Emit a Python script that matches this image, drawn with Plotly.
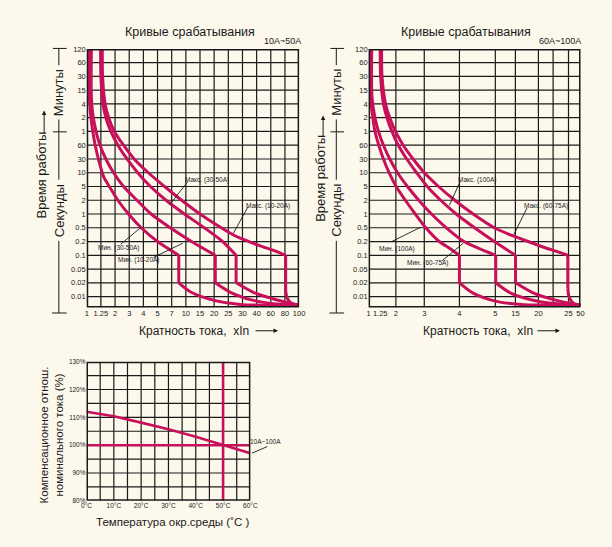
import plotly.graph_objects as go

W, H = 612, 547
BG = "#FDF8EC"
RED = "#C8105A"
INK = "#1a1a1a"
FONT = "Liberation Sans, Arial, sans-serif"
NARROW = "Liberation Sans Narrow, Arial Narrow, Liberation Sans, sans-serif"

# ---------------- data ----------------
# top charts: shared row labels (grid row index 0..18, top to bottom)
Y_LABELS = ["120", "60", "30", "15", "4", "2", "1", "60", "30", "10", "5", "2", "1",
            "0.5", "0.2", "0.1", "0.05", "0.02", "0.01"]

# left chart 10A~50A : column labels (equally spaced grid columns 0..15)
L_X_LABELS = ["1", "1.25", "2", "3", "4", "5", "7", "10", "15", "20", "25", "30", "40", "60", "80", "100"]

# curves as (grid column, grid row)
L_MIN_3050_UP = [(0.17, 0), (0.17, 3.0), (0.25, 4.5), (0.4, 5.8), (0.6, 7.0), (0.9, 8.3), (1.2, 9.3),
                 (1.6, 10.0), (2.2, 11.0), (2.95, 12.0), (3.85, 13.0), (5.0, 14.0), (6.5, 15.0)]
L_MIN_3050_LO = [(6.5, 17.0), (7.38, 17.69), (9.0, 18.28), (10.85, 18.57), (12.0, 18.62), (15, 18.62)]
L_MIN_1020_UP = [(0.33, 0), (0.33, 3.5), (0.45, 4.9), (0.87, 6.8), (1.35, 8.0), (1.9, 9.0), (2.6, 10.0),
                 (3.55, 11.0), (4.55, 12.0), (5.9, 13.0), (7.4, 14.0), (9.08, 15.0)]
L_MIN_1020_LO = [(9.08, 17.0), (10.15, 17.69), (11.77, 18.28), (13.15, 18.52), (14.2, 18.6), (15, 18.62)]
L_MAX_3050_UP = [(0.98, 0), (1.0, 2.0), (1.15, 4.0), (1.35, 5.0), (1.7, 6.0), (2.2, 7.0), (2.85, 8.0),
                 (3.6, 9.0), (4.5, 10.0), (5.6, 11.0), (6.9, 12.0), (8.3, 13.0), (9.6, 14.0), (10.55, 15.0)]
L_MAX_3050_LO = [(10.55, 17.0), (11.77, 17.69), (13.15, 18.16), (14.2, 18.45), (14.7, 18.58), (15, 18.62)]
L_MAX_1020_UP = [(1.1, 0), (1.12, 2.0), (1.3, 4.0), (1.55, 5.0), (1.95, 6.0), (2.6, 7.0), (3.35, 8.0),
                 (4.35, 9.0), (5.5, 10.0), (6.7, 11.0), (8.0, 12.0), (9.5, 13.0), (10.5, 13.6), (11.45, 14.0),
                 (12.35, 14.35), (13.2, 14.65), (14.05, 15.0)]
L_MAX_1020_LO = [(14.05, 17.6), (14.15, 18.1), (14.35, 18.4), (14.65, 18.56), (15, 18.62)]

# right chart 60A~100A : column labels and their grid positions (not equally spaced)
R_X_LABELS = ["1", "1.25", "2", "3", "4", "5", "15", "20", "25", "50"]
R_X_POS = [0, 0.82, 1.93, 3.94, 6.43, 8.97, 10.39, 12.02, 14.15, 15]
R_X_GRID = [1.93, 3.94, 6.43, 8.97, 10.39, 12.02, 13.06, 14.15]

R_MIN_100_UP = [(0.13, 0), (0.14, 3.5), (0.3, 5.0), (0.45, 6.0), (0.72, 7.0), (1.05, 8.0), (1.45, 9.0),
                (1.95, 10.0), (2.6, 11.0), (3.3, 12.0), (4.05, 13.0), (5.0, 14.0), (5.75, 14.5), (6.43, 15.0)]
R_MIN_100_LO = [(6.43, 17.0), (7.4, 17.75), (9.05, 18.35), (11.0, 18.6), (12.5, 18.62), (15, 18.62)]
R_MIN_6075_UP = [(0.22, 0), (0.24, 3.5), (0.45, 5.0), (0.7, 6.0), (1.05, 7.0), (1.5, 8.0), (2.05, 9.0),
                 (2.75, 10.0), (3.55, 11.0), (4.45, 12.0), (5.5, 13.0), (6.75, 14.0), (7.8, 14.5), (9.0, 15.0)]
R_MIN_6075_LO = [(9.0, 17.0), (10.06, 17.75), (12.14, 18.38), (14.2, 18.6), (15, 18.62)]
R_MAX_100_UP = [(0.82, 0), (0.85, 2.0), (1.05, 4.0), (1.3, 5.0), (1.65, 6.0), (2.1, 7.0), (2.7, 8.0),
                (3.4, 9.0), (4.15, 10.0), (5.1, 11.0), (6.2, 12.0), (7.5, 13.0), (8.9, 14.0), (10.4, 15.0)]
R_MAX_100_LO = [(10.4, 17.0), (11.68, 17.75), (13.3, 18.28), (14.68, 18.58), (15, 18.62)]
R_MAX_6075_UP = [(0.92, 0), (0.95, 2.0), (1.2, 4.0), (1.5, 5.0), (1.9, 6.0), (2.45, 7.0), (3.15, 8.0),
                 (3.95, 9.0), (4.95, 10.0), (6.1, 11.0), (7.4, 12.0), (8.9, 13.0), (10.0, 13.5), (11.3, 14.0),
                 (12.5, 14.45), (13.4, 14.75), (14.1, 15.0)]
R_MAX_6075_LO = [(14.1, 17.4), (14.2, 18.05), (14.5, 18.48), (14.85, 18.6), (15, 18.62)]

# bottom chart: compensation vs ambient temperature
TEMP = [0, 10, 20, 30, 40, 50, 60]
COMP = [112.0, 110.4, 108.1, 105.7, 103.0, 100.0, 97.1]
REF_PCT = 100
REF_TEMP = 50
T_TICKS = [0, 10, 20, 30, 40, 50, 60]
T_LABELS = ["0°C", "10°C", "20°C", "30°C", "40°C", "50°C", "60°C"]
P_TICKS = [80, 90, 100, 110, 120, 130]
P_LABELS = ["80%", "90%", "100%", "110%", "120%", "130%"]

# ---------------- helpers ----------------
def fx(x):
    return x / W

def fy(y):
    return 1 - y / H

fig = go.Figure()
shapes = []
annotations = []

def add_curve(up, lo, xa, ya):
    kw = dict(mode="lines", xaxis=xa, yaxis=ya, showlegend=False, hoverinfo="skip")
    fig.add_trace(go.Scatter(x=[p[0] for p in up], y=[p[1] for p in up],
                             line=dict(color=RED, width=3, shape="spline", smoothing=0.8), **kw))
    fig.add_trace(go.Scatter(x=[up[-1][0], lo[0][0]], y=[up[-1][1], lo[0][1]],
                             line=dict(color=RED, width=3), **kw))
    fig.add_trace(go.Scatter(x=[p[0] for p in lo], y=[p[1] for p in lo],
                             line=dict(color=RED, width=3, shape="spline", smoothing=0.8), **kw))

for up, lo in [(L_MIN_3050_UP, L_MIN_3050_LO), (L_MIN_1020_UP, L_MIN_1020_LO),
               (L_MAX_3050_UP, L_MAX_3050_LO), (L_MAX_1020_UP, L_MAX_1020_LO)]:
    add_curve(up, lo, "x", "y")
for up, lo in [(R_MIN_100_UP, R_MIN_100_LO), (R_MIN_6075_UP, R_MIN_6075_LO),
               (R_MAX_100_UP, R_MAX_100_LO), (R_MAX_6075_UP, R_MAX_6075_LO)]:
    add_curve(up, lo, "x2", "y2")

kw3 = dict(mode="lines", xaxis="x3", yaxis="y3", showlegend=False, hoverinfo="skip")
fig.add_trace(go.Scatter(x=TEMP, y=COMP, line=dict(color=RED, width=2.6), **kw3))
fig.add_trace(go.Scatter(x=[T_TICKS[0], T_TICKS[-1]], y=[REF_PCT, REF_PCT], line=dict(color=RED, width=2.6), **kw3))
fig.add_trace(go.Scatter(x=[REF_TEMP, REF_TEMP], y=[P_TICKS[0], P_TICKS[-1]], line=dict(color=RED, width=2.6), **kw3))

# ---------------- grids ----------------
YMAX = 18.8
GRID = dict(color=INK, width=1.2)

def grid_v(xr, yr, xs, y0, y1):
    for v in xs:
        shapes.append(dict(type="line", xref=xr, yref=yr, x0=v, x1=v, y0=y0, y1=y1, line=GRID, layer="below"))

def grid_h(xr, yr, ys, x0, x1):
    for v in ys:
        shapes.append(dict(type="line", xref=xr, yref=yr, x0=x0, x1=x1, y0=v, y1=v, line=GRID, layer="below"))

grid_v("x", "y", range(1, 15), 0, YMAX)
grid_h("x", "y", range(1, 19), 0, 15)
grid_v("x2", "y2", R_X_GRID, 0, YMAX)
grid_h("x2", "y2", range(1, 19), 0, 15)
grid_v("x3", "y3", range(5, 60, 5), 80, 130)
grid_h("x3", "y3", range(85, 130, 5), 0, 60)

for xr, yr, x0, x1, y0, y1 in [("x", "y", 0, 15, 0, YMAX), ("x2", "y2", 0, 15, 0, YMAX), ("x3", "y3", 0, 60, 80, 130)]:
    shapes.append(dict(type="rect", xref=xr, yref=yr, x0=x0, x1=x1, y0=y0, y1=y1,
                       line=dict(color=INK, width=3), layer="above"))

# ---------------- text / decorations ----------------
def text(x, y, s, size, angle=0, family=FONT, xanchor="center"):
    annotations.append(dict(xref="paper", yref="paper", x=fx(x), y=fy(y), text=s, showarrow=False,
                            font=dict(family=family, size=size, color=INK), textangle=angle,
                            xanchor=xanchor, yanchor="middle"))

def pline(x0, y0, x1, y1, w=1):
    shapes.append(dict(type="line", xref="paper", yref="paper", x0=fx(x0), y0=fy(y0), x1=fx(x1), y1=fy(y1),
                       line=dict(color=INK, width=w)))

def arrow(x, y, ax, ay):
    annotations.append(dict(xref="paper", yref="paper", x=fx(x), y=fy(y), ax=ax, ay=ay, text="",
                            showarrow=True, arrowhead=2, arrowsize=0.9, arrowwidth=1, arrowcolor=INK))

for cx, title_x, tag, tag_x, vx, vtxt_y, varr_x, varr_y0, varr_y1, xt_x, xa_x in [
        (55, 189, "10A~50A", 284, 37.5, 173, 40, 108, 132, 193, 255),
        (338.5, 471, "60A~100A", 567, 323, 177, 325, 113, 135, 483, 543)]:
    text(title_x, 28, "Кривые срабатывания", 12.5)
    text(tag_x, 37, tag, 9)
    # minutes / seconds brackets
    pline(cx - 6, 45, cx + 8, 45)
    pline(cx, 45, cx, 62)
    text(cx, 89.5, "Минуты", 13, -90)
    pline(cx, 117, cx, 130)
    pline(cx - 6, 129.5, cx + 8, 129.5)
    pline(cx, 130, cx, 178)
    text(cx, 209, "Секунды", 13, -90)
    pline(cx, 240, cx, 313)
    pline(cx - 7, 313, cx + 8, 313)
    # time axis label
    text(vx, vtxt_y, "Время работы", 13, -90)
    arrow(varr_x, varr_y0, 0, varr_y1 - varr_y0)
    # current multiple label
    text(xt_x, 331, "Кратность тока,&nbsp;&nbsp;xIn", 12)
    arrow(xa_x + 24, 331, -24, 0)

# curve labels and pointers
SMALL = 6.5
for s, x, y, p in [
        ("Макс. (30-50A)", 206.7, 178.3, (186.7, 180, 168.3, 203.3)),
        ("Макс. (10-20A)", 268.3, 204.5, (248.3, 205.5, 233.3, 232.3)),
        ("Мин. (30-50A)", 116.7, 246.7, (118.3, 243.3, 139.3, 226)),
        ("Мин. (10-20A)", 136.7, 259, (151.7, 256.7, 181.7, 242.3)),
        ("Макс. (100A)", 482, 178.3, (465, 180, 454, 204)),
        ("Макс. (60-75A)", 552.5, 205, (533.3, 206.7, 520, 233.3)),
        ("Мин. (100A)", 400, 248.3, (395, 240.7, 425, 226)),
        ("Мин. (60-75A)", 431.7, 262.3, (446.7, 260, 468.3, 242.3)),
        ("10A~100A", 266, 443, (268, 448.3, 252.3, 455))]:
    text(x, y, s, SMALL, family=NARROW)
    pline(*p, w=0.9)

# bottom chart titles
text(47, 437, "Компенсационное отнош.<br>номинального тока (%)", 11.5, -90)
text(171.5, 525, "Температура окр.среды (˚C )", 11.5)

# ---------------- layout ----------------
TICKF = dict(family=NARROW, size=7.5, color=INK)
TICKF3 = dict(family=NARROW, size=6.5, color=INK)
base = dict(showgrid=False, zeroline=False, showline=False, ticks="", fixedrange=True)

TOP_Y = [fy(307.5), fy(45.5)]

fig.update_layout(
    width=W, height=H, margin=dict(l=0, r=0, t=0, b=0),
    paper_bgcolor=BG, plot_bgcolor=BG, showlegend=False,
    xaxis=dict(domain=[fx(83.5), fx(300.5)], range=[0, 15], tickvals=list(range(16)), ticktext=L_X_LABELS,
               tickfont=TICKF, anchor="y", **base),
    yaxis=dict(domain=TOP_Y, range=[YMAX, 0], tickvals=list(range(19)), ticktext=Y_LABELS,
               tickfont=TICKF, anchor="x", **base),
    xaxis2=dict(domain=[fx(371.5), fx(588)], range=[0, 15], tickvals=R_X_POS, ticktext=R_X_LABELS,
                tickfont=TICKF, anchor="y2", **base),
    yaxis2=dict(domain=TOP_Y, range=[YMAX, 0], tickvals=list(range(19)), ticktext=Y_LABELS,
                tickfont=TICKF, anchor="x2", **base),
    xaxis3=dict(domain=[fx(83.3), fx(250.7)], range=[0, 60], tickvals=T_TICKS, ticktext=T_LABELS,
                tickfont=TICKF3, anchor="y3", **base),
    yaxis3=dict(domain=[fy(503.3), fy(362.3)], range=[80, 130], tickvals=P_TICKS, ticktext=P_LABELS,
                tickfont=TICKF3, anchor="x3", **base),
    shapes=shapes, annotations=annotations,
)

fig.write_html("out.html", config={"displayModeBar": False},
               post_script="document.body.style.margin='0';document.body.style.overflow='hidden';")
